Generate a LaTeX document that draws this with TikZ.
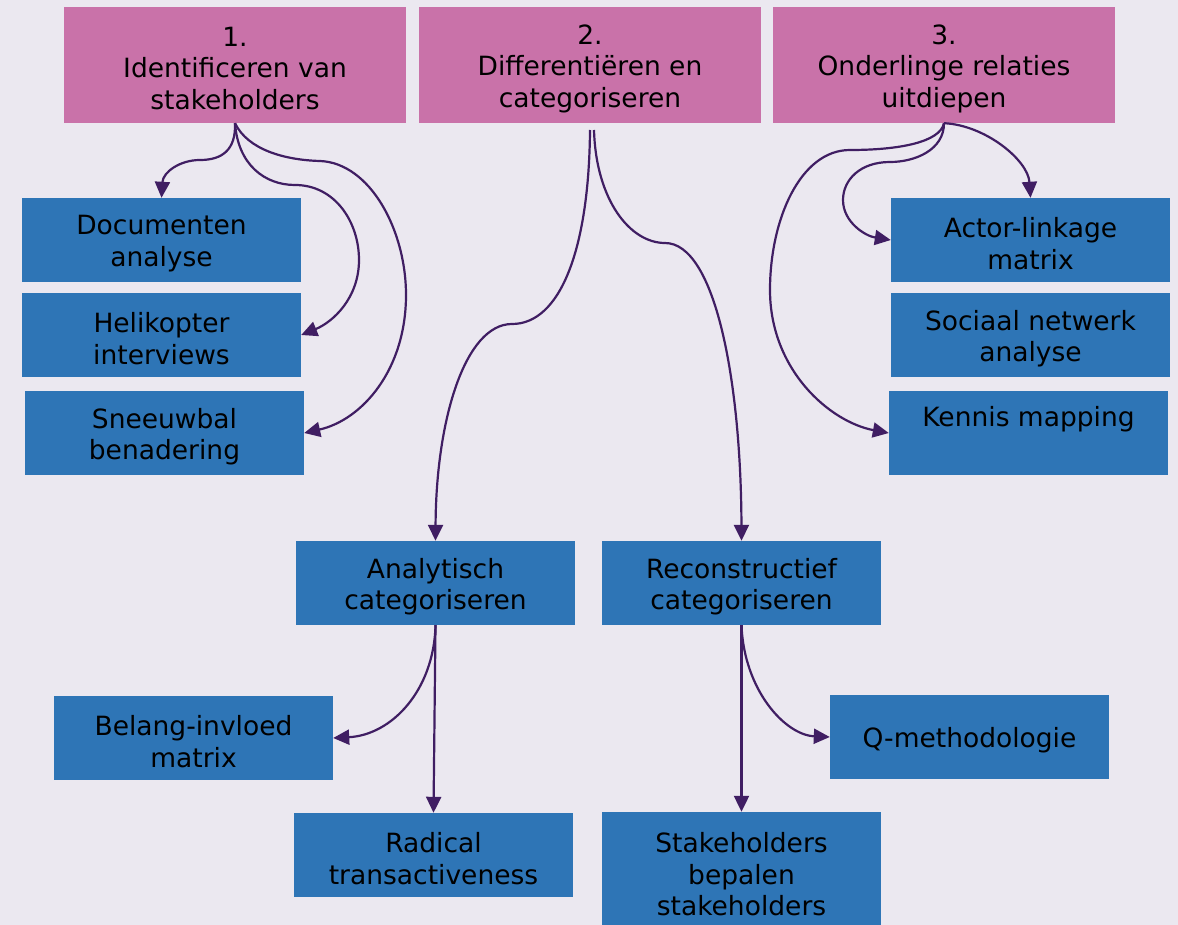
\documentclass[tikz,border=0pt]{standalone}
\usepackage{fontspec}
\setmainfont{DejaVu Sans}
\usetikzlibrary{arrows.meta}
\definecolor{bgcol}{HTML}{EBE8F0}
\definecolor{pinkbox}{HTML}{C972A9}
\definecolor{bluebox}{HTML}{2E75B6}
\definecolor{linkcol}{HTML}{401E63}
\begin{document}
\begin{tikzpicture}[x=1pt,y=-1pt,
  every node/.style={inner sep=0pt},
  boxtext/.style={font=\fontsize{26.5}{31.5}\selectfont, align=center, text=black, yshift=-3.5pt},
  phasebox/.style={fill=pinkbox, minimum width=342pt, minimum height=116pt},
  methodbox/.style={fill=bluebox, minimum width=279pt, minimum height=84pt},
  link/.style={draw=linkcol, line width=2.2pt, -{Triangle[length=16pt,width=15pt]}}]
  \useasboundingbox[fill=bgcol] (0,0) rectangle (1178,925);
  \begin{scope}
  \clip (0,0) rectangle (1178,925);

  % phases
  \node[phasebox] (p1) at (235,65) {};
  \node[phasebox] (p2) at (590,65) {};
  \node[phasebox] (p3) at (944,65) {};
  \node[boxtext] (p1t) at (p1) {1.\\Identificeren van\\stakeholders};
  \node[boxtext] (p2t) at (p2) {2.\\Differentiëren en\\categoriseren};
  \node[boxtext] (p3t) at (p3) {3.\\Onderlinge relaties\\uitdiepen};

  % methods of phase 1
  \node[methodbox] (doc) at (161.5,240) {};
  \node[methodbox] (heli) at (161.5,335) {};
  \node[methodbox] (snow) at (164.5,433) {};
  \node[boxtext] (doct) at (doc) {Documenten\\analyse};
  \node[boxtext] (helit) at (heli) {Helikopter\\interviews};
  \node[boxtext] (snowt) at (snow) {Sneeuwbal\\benadering};

  % methods of phase 3
  \node[methodbox] (alm) at (1030.5,240) {};
  \node[methodbox] (sna) at (1030.5,335) {};
  \node[methodbox] (km) at (1028.5,433) {};
  \node[boxtext] (almt) at (alm) {Actor-linkage\\matrix};
  \node[boxtext] (snat) at (sna) {Sociaal netwerk\\analyse};
  \node[boxtext] (kmt) at (km) {Kennis mapping\\\strut};

  % phase 2 branches
  \node[methodbox] (ana) at (435.5,583) {};
  \node[methodbox] (rec) at (741.5,583) {};
  \node[methodbox] (bim) at (193.5,738) {};
  \node[methodbox] (rad) at (433.5,855) {};
  \node[methodbox] (qm) at (969.5,737) {};
  \node[methodbox, minimum height=118pt] (sbs) at (741.5,871) {};
  \node[boxtext] (anat) at (ana) {Analytisch\\categoriseren};
  \node[boxtext] (rect) at (rec) {Reconstructief\\categoriseren};
  \node[boxtext] (bimt) at (bim) {Belang-invloed\\matrix};
  \node[boxtext] (radt) at (rad) {Radical\\transactiveness};
  \node[boxtext] (qmt) at (qm) {Q-methodologie};
  \node[boxtext] (sbst) at (sbs) {Stakeholders\\bepalen\\stakeholders};
  \end{scope}

  \coordinate (p2a) at (590,130);
  \coordinate (p2b) at (594,130);

  % phase 1 links
  \draw[link] (p1.south) .. controls (236,150) and (222,160) .. (200,160)
        .. controls (180,160) and (163,172) .. (doc.north);
  \draw[link] (p1.south) .. controls (238,165) and (265,185) .. (295,185)
        .. controls (335,185) and (359,222) .. (359,260)
        .. controls (359,298) and (333,322) .. (heli.east);
  \draw[link] (p1.south) .. controls (248,150) and (285,160) .. (320,161)
        .. controls (370,163) and (406,230) .. (406,295)
        .. controls (406,370) and (362,420) .. (snow.east);

  % phase 2 links
  \draw[link] (p2a) .. controls (589,250) and (560,324) .. (512,324)
        .. controls (465,324) and (436,420) .. (ana.north);
  \draw[link] (p2b) .. controls (596,200) and (630,243) .. (665,243)
        .. controls (715,243) and (741,380) .. (rec.north);

  % phase 3 links
  \draw[link] (p3.south) .. controls (985,125) and (1028,160) .. (alm.north);
  \draw[link] (p3.south) .. controls (944,150) and (915,162) .. (890,162)
        .. controls (860,162) and (843,180) .. (843,200)
        .. controls (843,222) and (865,236) .. (alm.west);
  \draw[link] (p3.south) .. controls (940,142) and (900,150) .. (850,150)
        .. controls (800,150) and (770,220) .. (770,290)
        .. controls (770,370) and (830,422) .. (km.west);

  % sub-branches
  \draw[link] (ana.south) .. controls (434,690) and (392,735) .. (bim.east);
  \draw[link] (ana.south) -- (rad.north);
  \draw[link] (rec.south) .. controls (744,690) and (785,735) .. (qm.west);
  \draw[link] (rec.south) -- (sbs.north);
\end{tikzpicture}
\end{document}
